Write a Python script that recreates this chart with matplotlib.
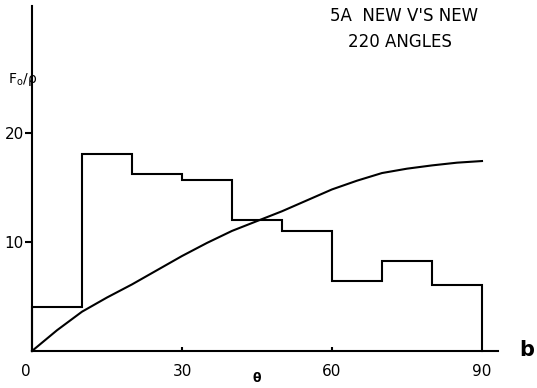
import matplotlib
matplotlib.use("Agg")
import matplotlib.pyplot as plt
import numpy as np

# Histogram of F_o/rho in 10-degree bins of theta
bin_edges = [0, 10, 20, 30, 40, 50, 60, 70, 80, 90]
bar_heights = [4.0, 18.0, 16.2, 15.7, 12.0, 11.0, 6.4, 8.2, 6.0]

# Smooth reference curve
curve_theta = [0, 5, 10, 15, 20, 25, 30, 35, 40, 45, 50, 55, 60, 65, 70, 75, 80, 85, 90]
curve_value = [0, 1.9, 3.6, 4.9, 6.1, 7.4, 8.7, 9.9, 11.0, 11.9, 12.8, 13.8, 14.8,
               15.6, 16.3, 16.7, 17.0, 17.25, 17.4]

x_ticks = [0, 30, 60, 90]
x_tick_labels = ["0", "30", "60", "90"]
y_ticks = [10, 20]
y_tick_labels = ["10", "20"]

W, H = 537, 388
fig = plt.figure(figsize=(W / 100, H / 100), dpi=100)
ax = fig.add_axes([32 / W, (H - 351) / H, 466 / W, 345 / H])
ax.set_xlim(0, 93.2)
ax.set_ylim(0, 31.6)

lw = 1.5
# Histogram outline: closed at the left with the axis, down to zero at the right
xs = [bin_edges[0]]
ys = [0]
for i, h in enumerate(bar_heights):
    xs += [bin_edges[i], bin_edges[i + 1]]
    ys += [h, h]
xs.append(bin_edges[-1])
ys.append(0)
ax.plot(xs, ys, color="black", lw=lw, solid_joinstyle="miter", clip_on=False)

ax.plot(curve_theta, curve_value, color="black", lw=lw, clip_on=False)

for s in ["top", "right"]:
    ax.spines[s].set_visible(False)
for s in ["left", "bottom"]:
    ax.spines[s].set_linewidth(lw)

ax.set_yticks(y_ticks)
ax.set_yticklabels(y_tick_labels, fontsize=11)
ax.tick_params(axis="y", direction="out", length=5, width=lw, pad=1)
ax.set_xticks(x_ticks[1:3])
ax.set_xticklabels([])
ax.tick_params(axis="x", direction="in", length=3, width=lw)

# Axis numbers along the bottom
for t, lab in zip(x_ticks, x_tick_labels):
    xo = -1.3 if t == 0 else 0
    ax.text(t + xo, -1.9, lab, ha="center", va="center", fontsize=11)

ax.text(45, -2.5, "θ", ha="center", va="center", fontsize=9, fontweight="bold")
fig.text(8 / W, 1 - 80 / H, "F$_\\mathregular{o}$/ρ", ha="left", va="center", fontsize=10)
fig.text(527 / W, 1 - 350 / H, "b", ha="center", va="center", fontsize=15, fontweight="bold")

ax.text(74.4, 30.7, "5A  NEW V'S NEW", ha="center", va="center", fontsize=12)
ax.text(73.6, 28.3, "220 ANGLES", ha="center", va="center", fontsize=12)

fig.savefig("out.png", dpi=100)
